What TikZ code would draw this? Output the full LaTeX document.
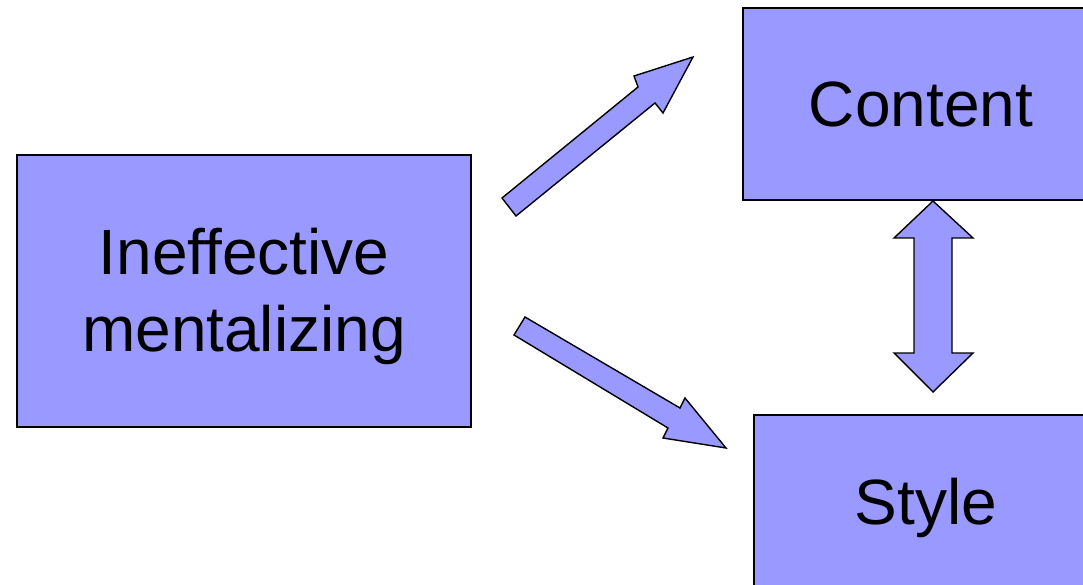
\documentclass[tikz,border=0pt]{standalone}
\usepackage{fontspec}
\setmainfont{Liberation Sans}
\definecolor{boxblue}{HTML}{9999FF}
\begin{document}
\begin{tikzpicture}[x=1pt,y=-1pt,
  box/.style={draw=black,fill=boxblue,line width=1.2pt,inner sep=0pt,font=\fontsize{64}{77}\selectfont,align=center},
  boxtext/.style={inner sep=0pt,font=\fontsize{64}{77}\selectfont,align=center},
  blockarrow/.style={draw=black,fill=boxblue,line width=1.4pt,line join=miter}]
\useasboundingbox (0,0) rectangle (1083,585);
\clip (0,0) rectangle (1083,585);
\node[box,minimum width=454pt,minimum height=272pt] (ineff) at (244,291) {};
\node[boxtext] (inefftext) at (244,296) {Ineffective\\mentalizing};
\node[box,minimum width=356pt,minimum height=192pt] (content) at (921,104) {Content};
\node[box,minimum width=344pt,minimum height=186pt] (style) at (926,508) {Style};
% upper arrow
\coordinate (ua) at (693,57);
\draw[blockarrow] (502,198) -- (638,87) -- (634,76) -- (ua) -- (663,113) -- (655,103) -- (516,216) -- cycle;
% lower arrow
\coordinate (la) at (726,448);
\draw[blockarrow] (525,317) -- (680,408) -- (685,398) -- (la) -- (663,438) -- (668,428) -- (514,335) -- cycle;
% double arrow
\draw[blockarrow] (933,201) -- (973,238) -- (952,238) -- (952,353) -- (973,353) -- (933,392) -- (894,353) -- (914,353) -- (914,238) -- (894,238) -- cycle;
\end{tikzpicture}
\end{document}
